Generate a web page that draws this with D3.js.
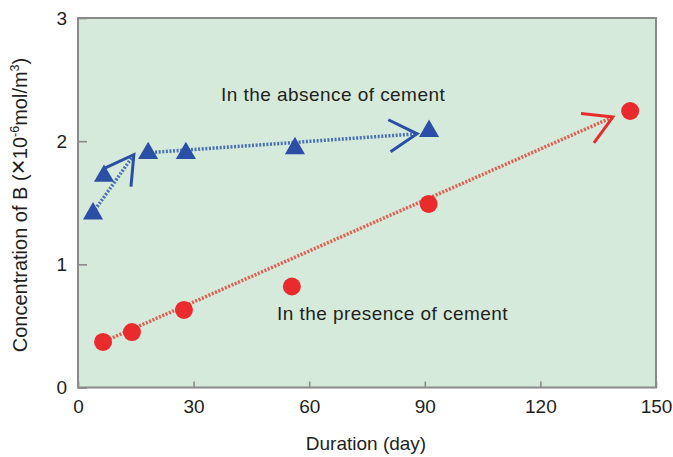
<!DOCTYPE html>
<html><head><meta charset="utf-8">
<script src="https://cdn.jsdelivr.net/npm/d3@7"></script>
<style>
body{margin:0;background:#fff;}
text{font-family:"Liberation Sans",Arial,Helvetica,sans-serif;fill:#231f20;}
</style></head>
<body>
<svg id="chart" width="673" height="457"></svg>
<script>
// ---- data ----
const absenceDays = [3.9, 6.75, 18.2, 28, 56.3, 91.1];
const absenceConc = [1.42, 1.725, 1.91, 1.91, 1.95, 2.09];
const presenceDays = [6.5, 14, 27.5, 55.5, 91, 143.3];
const presenceConc = [0.37, 0.45, 0.63, 0.82, 1.49, 2.245];
// trend arrows: [startDay, startConc, endDay, endConc]
const absenceArrows = [[3.9, 1.42, 14.5, 1.89], [20, 1.91, 88, 2.06]];
const presenceArrows = [[6.5, 0.37, 138.8, 2.196]];
const xTicks = [0, 30, 60, 90, 120, 150];
const yTicks = [0, 1, 2, 3];
const xTitle = "Duration (day)";
const absenceLabel = "In the absence of cement";
const presenceLabel = "In the presence of cement";

// ---- layout ----
const svg = d3.select("#chart");
const L = 78, R = 656, T = 18, B = 387.5;
const x = d3.scaleLinear().domain([0, 150]).range([L, R]);
const y = d3.scaleLinear().domain([0, 3]).range([B, T]);
const blue = "#2b4fa6", red = "#ea2a2c";
const blueDot = "#3c62b8", redDot = "#ee4a3c";

svg.append("rect").attr("x", L).attr("y", T).attr("width", R - L).attr("height", B - T)
  .attr("fill", "#d5eadb");

// axes
const xAxis = d3.axisBottom(x).tickValues(xTicks).tickSize(-6).tickPadding(12).tickFormat(d3.format("d"));
const gx = svg.append("g").attr("transform", `translate(0,${B})`).call(xAxis);
const yAxis = d3.axisLeft(y).tickValues(yTicks).tickSize(-9).tickPadding(11).tickFormat(d3.format("d"));
const gy = svg.append("g").attr("transform", `translate(${L},0)`).call(yAxis);
[gx, gy].forEach(g => {
  g.select(".domain").remove();
  g.selectAll(".tick line").attr("stroke", "#8a8a8a").attr("stroke-width", 1.6);
  g.selectAll(".tick text").attr("font-size", 19).attr("fill", "#231f20")
    .style("font-family", '"Liberation Sans",Arial,sans-serif');
});

// border
svg.append("rect").attr("x", L).attr("y", T).attr("width", R - L).attr("height", B - T)
  .attr("fill", "none").attr("stroke", "#8a8a8a").attr("stroke-width", 2);

// axis titles
svg.append("text").attr("x", (L + R) / 2 - 1).attr("y", 450).attr("text-anchor", "middle")
  .attr("font-size", 19).text(xTitle);

const yt = svg.append("text").attr("transform", "translate(27,205) rotate(-90)")
  .attr("text-anchor", "middle").attr("font-size", 20);
yt.append("tspan").text("Concentration of B (");
yt.append("tspan").attr("font-size", 26).text("×");
yt.append("tspan").text("10");
yt.append("tspan").attr("font-size", 12.5).attr("dy", -8).text("-6");
yt.append("tspan").attr("dy", 8).text("mol/m");
yt.append("tspan").attr("font-size", 12.5).attr("dy", -8).text("3");
yt.append("tspan").attr("dy", 8).text(")");

// arrows
function drawArrow(a, dotColor, headColor) {
  const x1 = x(a[0]), y1 = y(a[1]), x2 = x(a[2]), y2 = y(a[3]);
  svg.append("line").attr("x1", x1).attr("y1", y1).attr("x2", x2).attr("y2", y2)
    .attr("stroke", dotColor).attr("stroke-width", 3.5).attr("stroke-dasharray", "2,1.6")
    .attr("opacity", 0.9);
  const ang = Math.atan2(y1 - y2, x1 - x2), len = 32, half = Math.PI / 6;
  const p = [[x2 + len * Math.cos(ang + half), y2 + len * Math.sin(ang + half)], [x2, y2],
             [x2 + len * Math.cos(ang - half), y2 + len * Math.sin(ang - half)]];
  svg.append("path").attr("d", d3.line()(p)).attr("fill", "none")
    .attr("stroke", headColor).attr("stroke-width", 3).attr("stroke-linejoin", "miter");
}
absenceArrows.forEach(a => drawArrow(a, blueDot, blue));
presenceArrows.forEach(a => drawArrow(a, redDot, red));

// markers
const tri = d3.symbol().type(d3.symbolTriangle).size(175);
svg.append("g").selectAll("path").data(absenceDays.map((d, i) => [d, absenceConc[i]]))
  .join("path").attr("d", tri).attr("transform", d => `translate(${x(d[0])},${y(d[1]) + 1})`)
  .attr("fill", blue);
svg.append("g").selectAll("circle").data(presenceDays.map((d, i) => [d, presenceConc[i]]))
  .join("circle").attr("cx", d => x(d[0])).attr("cy", d => y(d[1])).attr("r", 9)
  .attr("fill", red);

// annotations
svg.append("text").attr("x", 221).attr("y", 101).attr("font-size", 19)
  .attr("letter-spacing", 0.45).text(absenceLabel);
svg.append("text").attr("x", 277).attr("y", 320).attr("font-size", 19)
  .attr("letter-spacing", 0.45).text(presenceLabel);
</script>
</body></html>
